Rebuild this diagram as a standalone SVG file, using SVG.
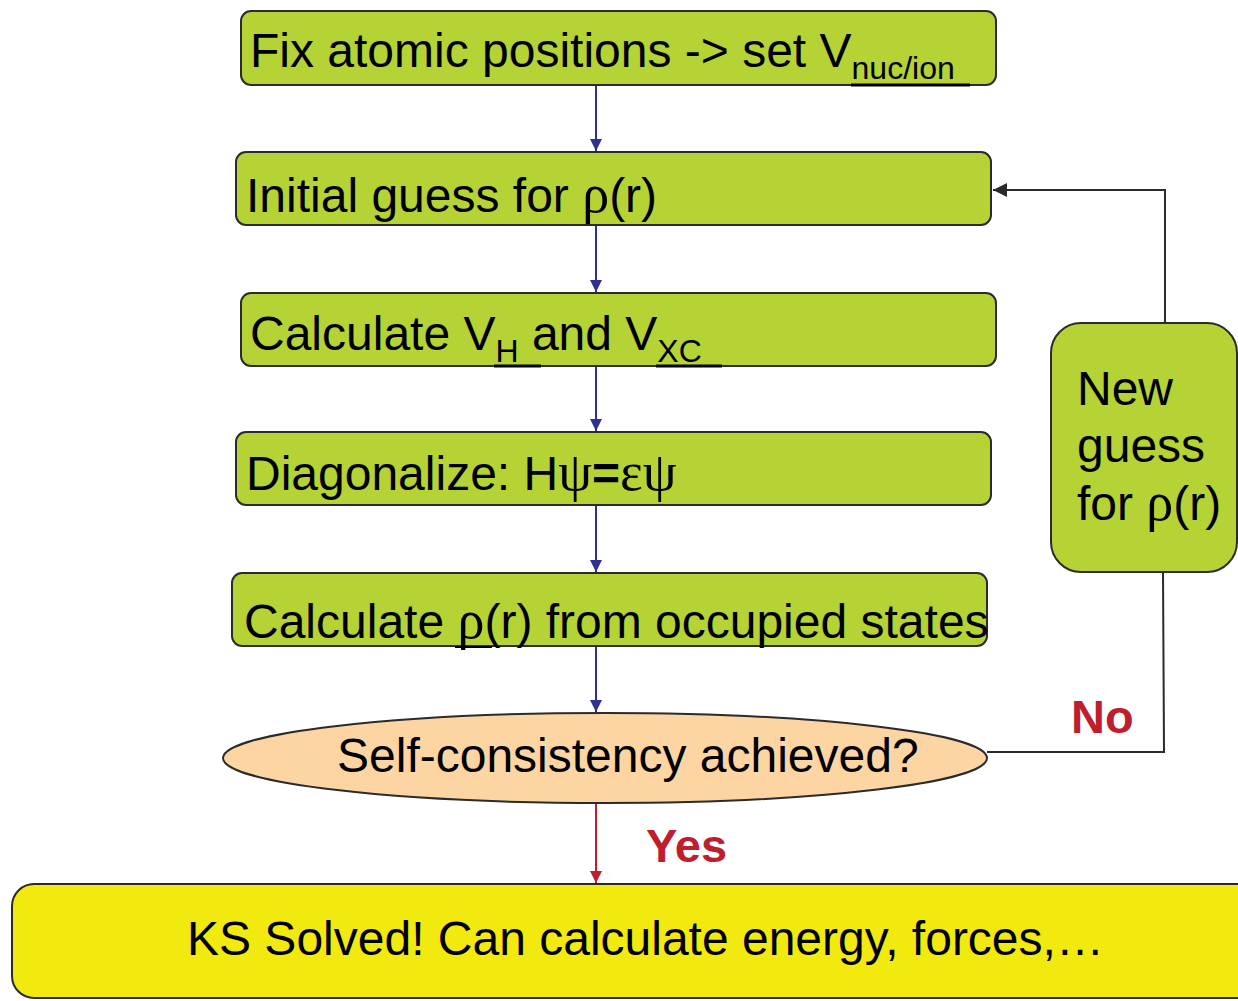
<svg xmlns="http://www.w3.org/2000/svg" width="1238" height="1001" viewBox="0 0 1238 1001">
<style>
.box{fill:#b5d334;stroke:#2b2b2b;stroke-width:2}
.t{font-family:"Liberation Sans",Arial,sans-serif;font-size:48px;fill:#000}
.g{font-family:"Liberation Serif","Times New Roman",serif;font-size:54px}
.sub{font-size:32px}
.lbl{font-family:"Liberation Sans",Arial,sans-serif;font-size:47px;font-weight:bold;fill:#be1e2d}
.blue{stroke:#2e3192;stroke-width:2;fill:none}
.blk{stroke:#2b2b2b;stroke-width:2;fill:none}
.ul{stroke:#000;stroke-width:3}
</style>
<defs>
<marker id="ab" markerWidth="12" markerHeight="12" refX="10" refY="5" orient="auto" markerUnits="userSpaceOnUse" viewBox="0 0 10 10"><path d="M0,0 L10,5 L0,10 z" fill="#2e3192"/></marker>
<marker id="ar" markerWidth="12" markerHeight="12" refX="10" refY="5" orient="auto" markerUnits="userSpaceOnUse" viewBox="0 0 10 10"><path d="M0,0 L10,5 L0,10 z" fill="#be1e2d"/></marker>
<marker id="ak" markerWidth="14" markerHeight="14" refX="10" refY="5" orient="auto" markerUnits="userSpaceOnUse" viewBox="0 0 10 10"><path d="M0,0 L10,5 L0,10 z" fill="#2b2b2b"/></marker>
</defs>

<g id="connectors">
<line class="blue" x1="596" y1="86" x2="596" y2="151" marker-end="url(#ab)"/>
<line class="blue" x1="596" y1="226" x2="596" y2="292" marker-end="url(#ab)"/>
<line class="blue" x1="596" y1="367" x2="596" y2="431" marker-end="url(#ab)"/>
<line class="blue" x1="596" y1="506" x2="596" y2="572" marker-end="url(#ab)"/>
<line class="blue" x1="596" y1="647" x2="596" y2="712" marker-end="url(#ab)"/>
<line x1="596" y1="804" x2="596" y2="883" stroke="#be1e2d" stroke-width="2" marker-end="url(#ar)"/>
<polyline class="blk" points="987,752 1164,752 1163,572"/>
<polyline class="blk" points="1165,323 1165,190 1161,190"/>
<line class="blk" x1="1161" y1="190" x2="993" y2="190" marker-end="url(#ak)"/>
</g>

<g id="n1">
<rect class="box" x="241" y="11" width="755" height="74" rx="10"/>
<text class="t" x="250" y="67">Fix atomic positions -&gt; set V<tspan class="sub" dy="12">nuc/ion</tspan></text>
<line class="ul" x1="851" y1="85" x2="970" y2="85"/>
</g>

<g id="n2">
<rect class="box" x="236" y="152" width="755" height="73" rx="10"/>
<text class="t" x="246" y="212">Initial guess for <tspan class="g">ρ</tspan>(r)</text>
</g>

<g id="n3">
<rect class="box" x="241" y="293" width="755" height="73" rx="10"/>
<text class="t" x="250" y="350">Calculate V<tspan class="sub" dy="12">H</tspan><tspan dy="-12"> and V</tspan><tspan class="sub" dy="12">XC</tspan></text>
<line class="ul" x1="494" y1="366" x2="541" y2="366"/>
<line class="ul" x1="656" y1="366" x2="722" y2="366"/>
</g>

<g id="n4">
<rect class="box" x="236" y="432" width="755" height="73" rx="10"/>
<text class="t" x="246" y="490">Diagonalize: H<tspan class="g">ψ</tspan><tspan font-weight="bold">=</tspan><tspan class="g">εψ</tspan></text>
</g>

<g id="n5">
<rect class="box" x="232" y="573" width="755" height="73" rx="10"/>
<text class="t" x="244" y="638">Calculate <tspan class="g">ρ</tspan>(r) from occupied states</text>
<line stroke="#000" stroke-width="2" x1="455" y1="647" x2="492" y2="647"/>
</g>

<g id="n6">
<ellipse cx="605" cy="758" rx="382" ry="45" fill="#fcd5a2" stroke="#2b2b2b" stroke-width="2"/>
<text class="t" x="337" y="772">Self-consistency achieved?</text>
</g>

<g id="n7">
<rect class="box" x="1051" y="323" width="186" height="249" rx="30"/>
<text class="t" x="1077" y="405">New</text>
<text class="t" x="1077" y="462">guess</text>
<text class="t" x="1077" y="520">for <tspan class="g">ρ</tspan>(r)</text>
</g>

<g id="n8">
<rect x="12" y="884" width="1260" height="114" rx="22" fill="#f2e90f" stroke="#2b2b2b" stroke-width="2"/>
<text class="t" x="187" y="955">KS Solved! Can calculate energy, forces,…</text>
</g>

<text class="lbl" x="1071" y="733">No</text>
<text class="lbl" x="646" y="862">Yes</text>
</svg>
